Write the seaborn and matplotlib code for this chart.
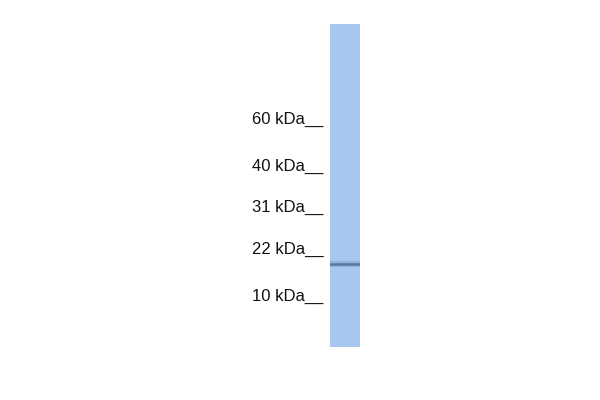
import matplotlib
matplotlib.use("Agg")
import matplotlib.pyplot as plt
import seaborn as sns
import pandas as pd

# marker ladder (label, row in image where the label sits)
marker_labels = ["60 kDa", "40 kDa", "31 kDa", "22 kDa", "10 kDa"]
marker_rows = [118, 165, 206, 248, 295]

# detected band: row across the lane (left -> right)
band_row = 264
band_x = [0.0, 0.25, 0.5, 0.75, 1.0]

lane_top, lane_bottom = 24, 347

sns.set_theme(style="white")
plt.rcParams["font.family"] = ["Liberation Sans", "DejaVu Sans"]

fig = plt.figure(figsize=(6, 4), dpi=100)
ax = fig.add_axes([330 / 600, 1 - lane_bottom / 400, 30 / 600, (lane_bottom - lane_top) / 400])
ax.set_facecolor("#a8c7ef")
for s in ax.spines.values():
    s.set_visible(False)

band = pd.DataFrame({"x": band_x, "y": [band_row] * len(band_x)})
sns.lineplot(data=band, x="x", y="y", ax=ax, color="#7c9cc4", linewidth=4.5, alpha=0.45)
sns.lineplot(data=band, x="x", y="y", ax=ax, color="#4a6a92", linewidth=1.8, alpha=0.8)

ax.set_xlim(0, 1)
ax.set_ylim(lane_bottom, lane_top)
ax.set_xticks([])
ax.set_yticks(marker_rows)
ax.set_yticklabels([m + "__" for m in marker_labels], fontsize=12, color="#111111")
ax.tick_params(axis="y", length=0, pad=4.5)
ax.set_xlabel("")
ax.set_ylabel("")

fig.savefig("out.png", dpi=100, facecolor="white")
